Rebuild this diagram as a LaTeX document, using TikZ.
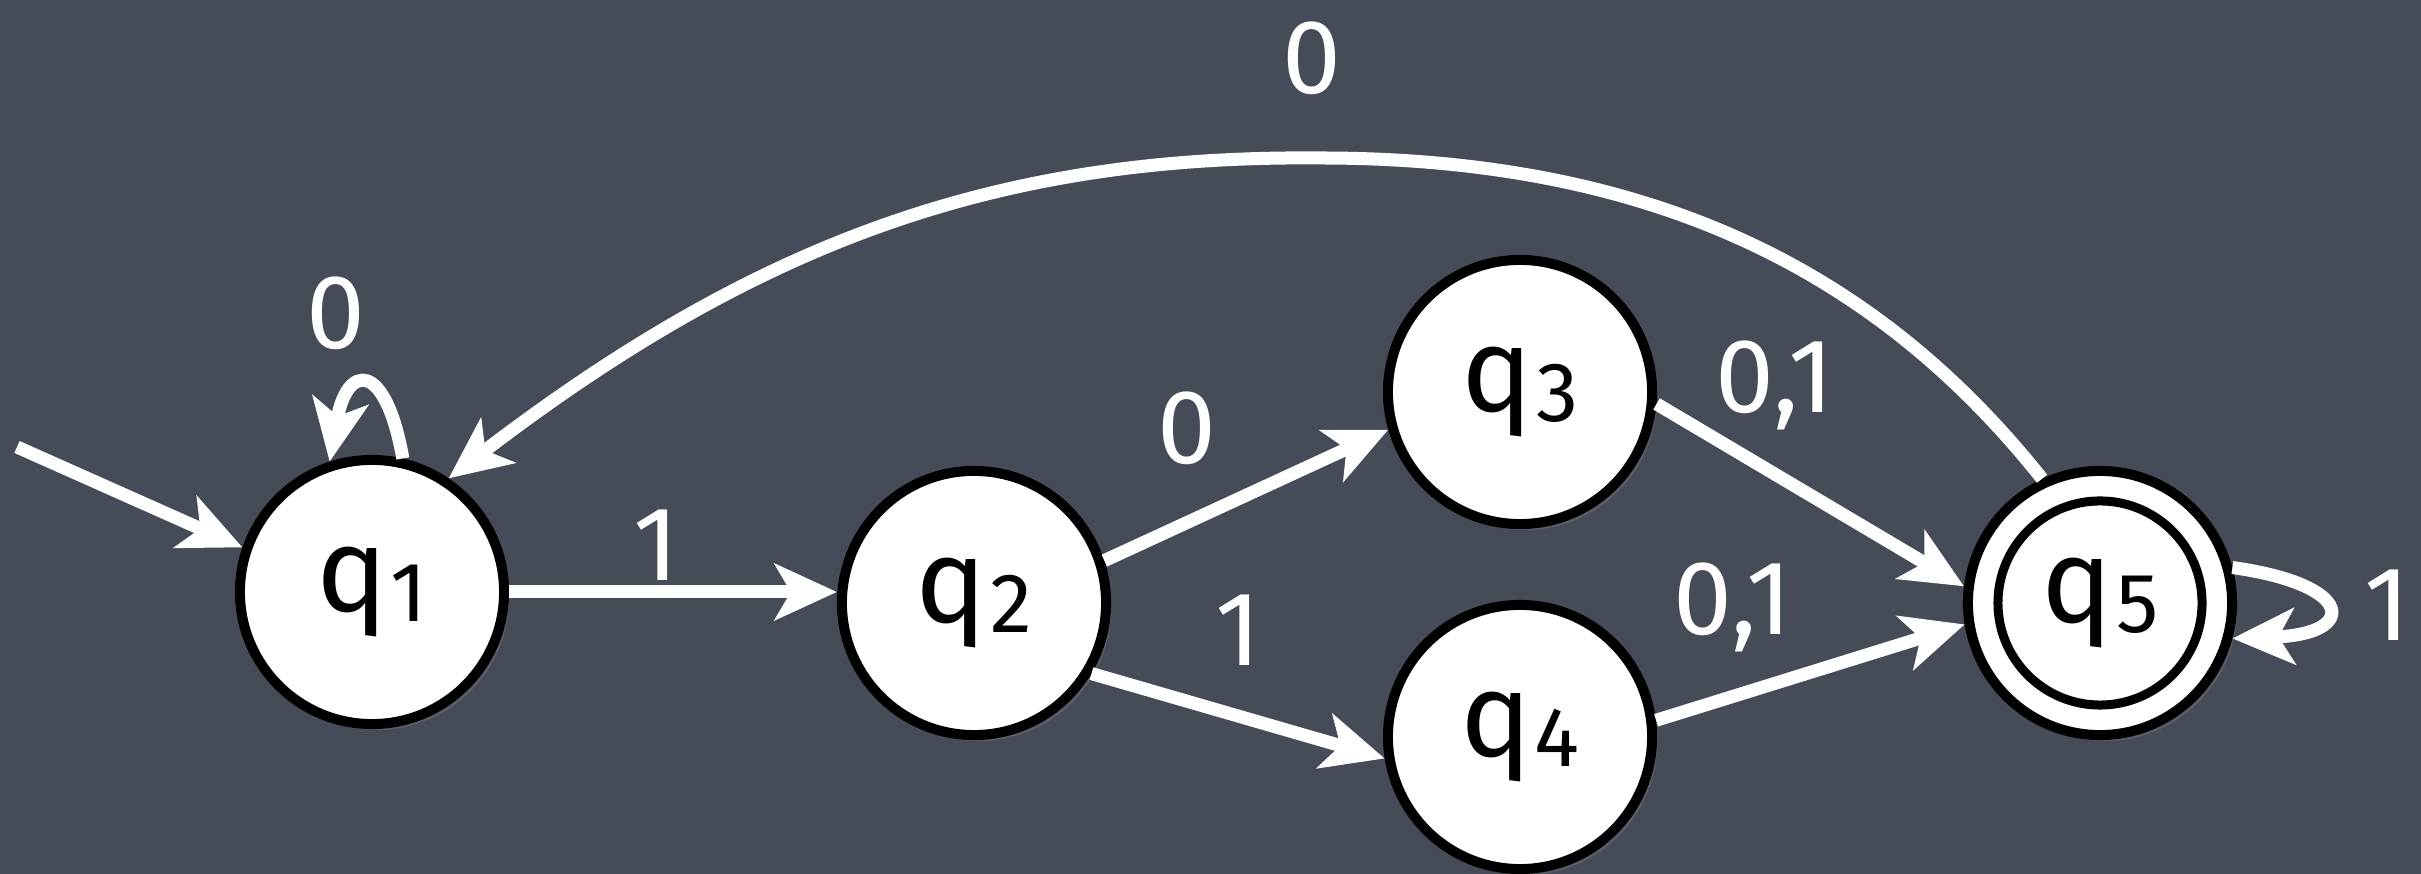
\documentclass[tikz,border=0pt]{standalone}
\usepackage{fontspec}
\setmainfont{Fira Sans}
\usetikzlibrary{arrows.meta,shadows}
\definecolor{board}{RGB}{70,75,88}
\newcommand{\qn}[1]{q\kern0.03cm\raisebox{-0.1cm}{\fontsize{24}{24}\selectfont #1}}
\begin{document}
\begin{tikzpicture}[x=0.01cm,y=-0.01cm,
  state/.style={circle, fill=white, draw=black, line width=0.1cm, minimum size=2.64cm, inner sep=0pt,
    font=\fontsize{34}{34}\selectfont,
    drop shadow={opacity=0.35,shadow xshift=0.05cm,shadow yshift=-0.06cm}},
  edge/.style={draw=white, line width=0.13cm, -{Stealth[length=0.62cm,width=0.56cm,inset=0.16cm]}},
  lbl/.style={text=white, font=\fontsize{30}{30}\selectfont, inner sep=0pt}]
\useasboundingbox (0,0) rectangle (2421,874);
\fill[board] (0,0) rectangle (2421,874);

% states
\node[state] (q1) at (372,592) {\qn{1}};
\node[state] (q2) at (974,603) {\qn{2}};
\node[state] (q3) at (1520,392) {\qn{3}};
\node[state] (q4) at (1520,737) {\qn{4}};
\node[state] (q5) at (2100,603) {\qn{5}};
\draw[line width=0.09cm] (q5.center) circle (1.02cm);

% start arrow
\coordinate (s) at (17,447);
\draw[edge] (s) -- (q1.161);

% transitions
\draw[edge] (q1.77) .. controls +(100:1cm) and +(80:1cm) .. (q1.108);
\draw[edge] (q1.east) -- (q1.east -| q2.west);
\draw[edge] (q2.18) -- (q3.196);
\draw[edge] (q2.329) -- (q4.189);
\draw[edge] (q3.-5) -- (q5.173);
\draw[edge] (q4.7) -- (q5.189);
\draw[edge] (q5.15) .. controls +(-8:1.25cm) and +(2:1.25cm) .. (q5.-15);
\coordinate (top) at (1320,158);
\draw[edge] (q5.115) .. controls (1887,284) and (1670,158) .. (top)
                     .. controls (1000,155) and (760,240) .. (q1.56);

% labels
\node[lbl] (l11) at (336,313) {0};
\node[lbl] (l12) at (656,545) {1};
\node[lbl] (l23) at (1187,428) {0};
\node[lbl] (l24) at (1238,630) {1};
\node[lbl] (l35) at (1775,385) {0,1};
\node[lbl] (l45) at (1733,607) {0,1};
\node[lbl] (l55) at (2387,605) {1};
\node[lbl] (l51) at (1312,58) {0};
\end{tikzpicture}
\end{document}
